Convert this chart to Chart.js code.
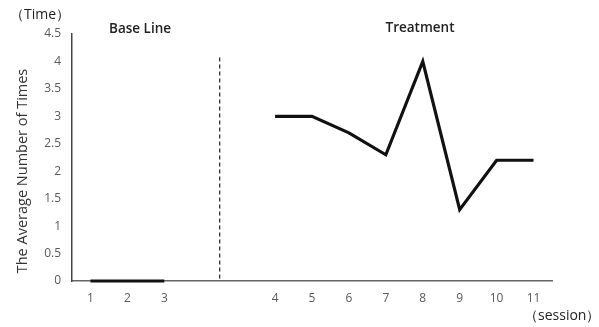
<!DOCTYPE html>
<html>
<head>
<meta charset="utf-8">
<script src="https://cdn.jsdelivr.net/npm/chart.js@4"></script>
<style>
  body { margin: 0; background: #fff; }
  #wrap { width: 599px; height: 327px; }
</style>
</head>
<body>
<div id="wrap"><canvas id="chart" width="599" height="327"></canvas></div>
<script>
// sessions, with two blank slots where the phase change sits
const sessions = ["1", "2", "3", "", "", "4", "5", "6", "7", "8", "9", "10", "11"];
const baseLine = [0, 0, 0, null, null, null, null, null, null, null, null, null, null];
const treatment = [null, null, null, null, null, 3, 3, 2.7, 2.3, 4, 1.3, 2.2, 2.2];
const yTicks = [0, 0.5, 1, 1.5, 2, 2.5, 3, 3.5, 4, 4.5];

const fontFam = "'Open Sans', 'Noto Sans', sans-serif";

// phase divider + the loose labels
const extras = {
  id: "extras",
  afterDatasetsDraw(chart) {
    const ctx = chart.ctx;
    const x = chart.scales.x;
    const y = chart.scales.y;
    const px = x.getPixelForValue(3.5);
    ctx.save();
    ctx.strokeStyle = "#222";
    ctx.lineWidth = 1.2;
    ctx.setLineDash([4, 3]);
    ctx.beginPath();
    ctx.moveTo(px, y.getPixelForValue(4.07));
    ctx.lineTo(px, y.getPixelForValue(0));
    ctx.stroke();
    ctx.setLineDash([]);

    ctx.fillStyle = "#222";
    ctx.textBaseline = "middle";
    ctx.font = "600 13.5px " + fontFam;
    ctx.textAlign = "center";
    ctx.fillText("Base Line", 140, 29);
    ctx.fillText("Treatment", 420, 28);
    ctx.font = "14px " + fontFam;
    ctx.textAlign = "left";
    ctx.fillText("（Time）", 10, 15);
    ctx.fillText("（session）", 524, 316);

    // y axis title
    ctx.fillStyle = "#333";
    ctx.font = "14.5px " + fontFam;
    ctx.textAlign = "center";
    ctx.translate(23, 171);
    ctx.rotate(-Math.PI / 2);
    ctx.fillText("The Average Number of Times", 0, 0);
    ctx.restore();
  }
};

new Chart(document.getElementById("chart"), {
  type: "line",
  data: {
    labels: sessions,
    datasets: [
      { data: baseLine, borderColor: "#111", borderWidth: 3, pointRadius: 0, clip: false },
      { data: treatment, borderColor: "#111", borderWidth: 3.2, pointRadius: 0, clip: false, borderJoinStyle: "miter" }
    ]
  },
  options: {
    responsive: false,
    animation: false,
    layout: { padding: { top: 34, right: 47, left: 0, bottom: 0 } },
    plugins: { legend: { display: false }, tooltip: { enabled: false } },
    scales: {
      x: {
        offset: true,
        grid: { display: false },
        border: { color: "#666", width: 1.5 },
        ticks: { color: "#595959", font: { size: 12, family: fontFam }, padding: 2, maxRotation: 0, autoSkip: false },
        afterFit(s) { s.height = 46; }
      },
      y: {
        min: 0,
        max: 4.5,
        grid: { display: false },
        border: { color: "#444", width: 1.5 },
        afterBuildTicks(s) { s.ticks = yTicks.map(v => ({ value: v })); },
        ticks: { color: "#595959", font: { size: 12, family: fontFam }, padding: 3, callback: v => String(v) },
        afterFit(s) { s.width = 72; }
      }
    }
  },
  plugins: [extras]
});
</script>
</body>
</html>
